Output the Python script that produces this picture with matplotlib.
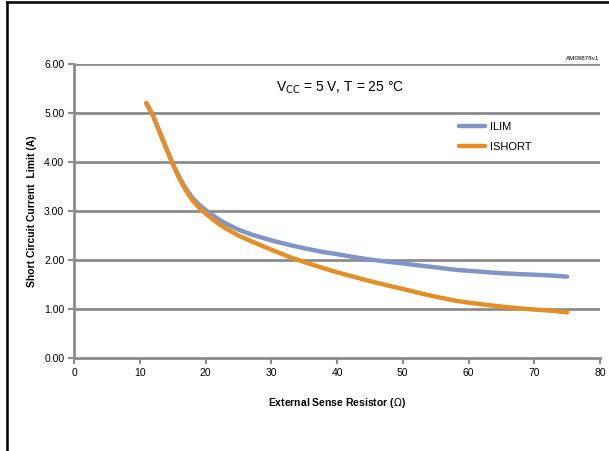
import matplotlib.pyplot as plt
from matplotlib.lines import Line2D

plt.rcParams['font.family'] = ['Liberation Sans', 'DejaVu Sans']

# values
r_sense = [11, 12, 13, 14, 15, 16, 17, 18, 19, 20, 21, 22, 23, 25, 27, 30, 33, 35, 38, 40,
           43, 45, 48, 50, 53, 55, 58, 60, 63, 65, 68, 70, 73, 75]
ilim = [5.20, 4.95, 4.62, 4.29, 3.97, 3.69, 3.46, 3.27, 3.13, 3.02, 2.92, 2.83, 2.75, 2.62,
        2.52, 2.40, 2.30, 2.24, 2.16, 2.12, 2.05, 2.01, 1.96, 1.93, 1.88, 1.85, 1.80, 1.78,
        1.75, 1.73, 1.71, 1.70, 1.68, 1.66]
ishort = [5.20, 4.95, 4.62, 4.29, 3.96, 3.67, 3.42, 3.22, 3.07, 2.95, 2.84, 2.74, 2.65, 2.50,
          2.38, 2.21, 2.05, 1.96, 1.83, 1.75, 1.64, 1.57, 1.47, 1.41, 1.31, 1.25, 1.17, 1.13,
          1.08, 1.05, 1.01, 0.99, 0.96, 0.93]
x_ticks = [0, 10, 20, 30, 40, 50, 60, 70, 80]
y_ticks = [0, 1, 2, 3, 4, 5, 6]

grey = '#8c8c8c'
blue = '#8094c6'
orange = '#e48e28'

fig = plt.figure(figsize=(6.09, 4.51), dpi=100)
ax = fig.add_axes([74 / 609, 1 - 358 / 451, 526 / 609, 294 / 451])

for v in y_ticks[1:]:
    ax.axhline(v, color=grey, lw=2, zorder=1)

ax.plot(r_sense, ilim, color=blue, lw=3.2, solid_capstyle='round', label='ILIM', zorder=3)
ax.plot(r_sense, ishort, color=orange, lw=3.2, solid_capstyle='round', label='ISHORT', zorder=4)

ax.set_xlim(0, 80)
ax.set_ylim(0, 6)
ax.set_xticks(x_ticks)
ax.set_yticks(y_ticks)
ax.set_yticklabels(['%.2f' % v for v in y_ticks])
ax.tick_params(labelsize=7.5, color=grey, width=1.5, length=4, pad=3)
for s in ['top', 'right']:
    ax.spines[s].set_visible(False)
for s in ['left', 'bottom']:
    ax.spines[s].set_color(grey)
    ax.spines[s].set_linewidth(2)

ax.set_xlabel('External Sense Resistor ($\\Omega$)', fontsize=7.5, fontweight='bold', labelpad=13)
ax.set_ylabel('Short Circuit Current  Limit (A)', fontsize=7.5, fontweight='bold', labelpad=5)

ax.text(340 / 609, 1 - 88 / 451, 'V$_{\\mathrm{CC}}$ = 5 V, T = 25 °C', transform=fig.transFigure,
        ha='center', va='center', fontsize=10)
fig.text(599 / 609, 1 - 59 / 451, 'AM09878v1', ha='right', va='center', fontsize=4.5)

handles = [Line2D([], [], color=blue, lw=3.2, solid_capstyle='round'),
           Line2D([], [], color=orange, lw=3.2, solid_capstyle='round')]
fig.legend(handles, ['ILIM', 'ISHORT'], loc='center left',
           bbox_to_anchor=(449 / 609, 1 - 137 / 451), frameon=False, fontsize=8,
           handlelength=2.3, handletextpad=0.45, labelspacing=0.85)

# outer frame (left and top edges)
fig.add_artist(Line2D([6.5 / 609, 6.5 / 609], [0, 1 - 1.5 / 451], color='black', lw=1.8,
                      transform=fig.transFigure))
fig.add_artist(Line2D([6.5 / 609, 1], [1 - 1.5 / 451, 1 - 1.5 / 451], color='black', lw=1.8,
                      transform=fig.transFigure))

fig.savefig('out.png', dpi=100)
